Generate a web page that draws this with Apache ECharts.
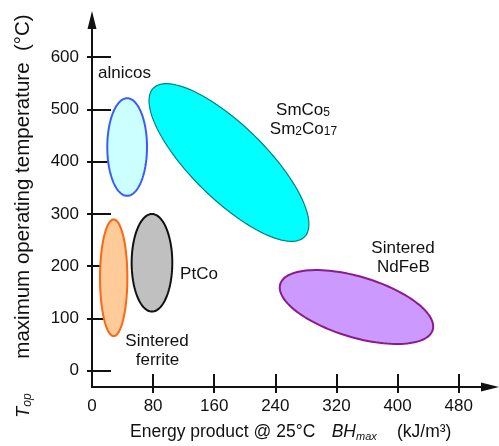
<!DOCTYPE html>
<html>
<head>
<meta charset="utf-8">
<script src="https://cdn.jsdelivr.net/npm/echarts@6/dist/echarts.min.js"></script>
<style>
  html, body { margin: 0; padding: 0; background: #fff; }
  #chart { width: 499px; height: 446px; }
</style>
</head>
<body>
<div id="chart"></div>
<script>
// Magnet families: operating temperature vs. energy product, each drawn as an ellipse
// described by its centre and two conjugate half-axis vectors (data units).
const materials = ['alnicos', 'Sintered ferrite', 'PtCo', 'SmCo5 / Sm2Co17', 'Sintered NdFeB'];
const centerBH = [46, 28.4, 78.5, 179.3, 346.2];     // kJ/m3
const centerT  = [428, 178, 206.6, 398.4, 122];      // °C
const axis1BH  = [26, 17.9, 26.6, 99, 99.8];
const axis1T   = [0, 0, 0, -142.1, -43.8];
const axis2BH  = [0, 0, 0, -33.9, -11.4];
const axis2T   = [93.4, 111.5, 93.3, -50.5, -55.5];

const xTickValues = [0, 80, 160, 240, 320, 400, 480];
const yTickValues = [0, 100, 200, 300, 400, 500, 600];

const fills   = ['#ccffff', '#ffcc99', '#c0c0c0', '#00ffff', '#cc99ff'];
const strokes = ['#3a5cff', '#ff6611', '#111111', '#0b7f80', '#8c1a8c'];
const strokeWidths = [2, 2, 2, 1.2, 2];

const FONT = '"Liberation Sans", Arial, Helvetica, sans-serif';
const INK = '#111';

const chart = echarts.init(document.getElementById('chart'), null, { renderer: 'canvas' });

const X_MIN = 0, X_MAX = 521, Y_MIN = -31, Y_MAX = 671;

const ellipseData = materials.map((name, i) => ({
  name,
  value: [centerBH[i], centerT[i], axis1BH[i], axis1T[i], axis2BH[i], axis2T[i]]
}));

function renderEllipse(params, api) {
  const i = params.dataIndex;
  const cx = api.value(0), cy = api.value(1);
  const ax = api.value(2), ay = api.value(3);
  const bx = api.value(4), by = api.value(5);
  const pts = [];
  const N = 120;
  for (let k = 0; k < N; k++) {
    const t = (k / N) * Math.PI * 2;
    const c = Math.cos(t), s = Math.sin(t);
    pts.push(api.coord([cx + ax * c + bx * s, cy + ay * c + by * s]));
  }
  return {
    type: 'polygon',
    shape: { points: pts },
    style: { fill: fills[i], stroke: strokes[i], lineWidth: strokeWidths[i] }
  };
}

function label(text, x, y, extra) {
  return Object.assign({
    type: 'text',
    x, y,
    style: {
      text,
      fontSize: 17,
      fontFamily: FONT,
      fill: INK,
      align: 'center',
      verticalAlign: 'middle'
    }
  }, extra || {});
}

function subText(text, x, y, subSize, subPad) {
  return {
    type: 'text',
    x, y,
    style: {
      text,
      fontSize: 17,
      fontFamily: FONT,
      fill: INK,
      lineHeight: 22,
      align: 'center',
      verticalAlign: 'middle',
      rich: {
        s: { fontSize: subSize, fontFamily: FONT, fill: INK, lineHeight: subSize, verticalAlign: 'top', padding: [subPad, 0, 0, 0] }
      }
    }
  };
}

const axisCommon = {
  type: 'value',
  splitLine: { show: false }
};

const option = {
  backgroundColor: '#fff',
  animation: false,
  grid: { left: 92, right: 9, top: 20, bottom: 59, containLabel: false },
  xAxis: [
    Object.assign({}, axisCommon, {
      min: X_MIN, max: X_MAX,
      position: 'bottom',
      axisLine: { show: true, onZero: false, symbol: ['none', 'triangle'], symbolSize: [9, 18],
                  lineStyle: { color: INK, width: 2 } },
      axisTick: { show: true, inside: true, length: 13, customValues: xTickValues.slice(1),
                  lineStyle: { color: INK, width: 2 } },
      axisLabel: { show: true, customValues: xTickValues, margin: 11, fontSize: 17,
                   fontFamily: FONT, color: INK }
    }),
    Object.assign({}, axisCommon, {
      min: X_MIN, max: X_MAX,
      position: 'bottom',
      axisLine: { show: false, onZero: false },
      axisTick: { show: true, inside: false, length: 6, customValues: xTickValues.slice(1),
                  lineStyle: { color: INK, width: 2 } },
      axisLabel: { show: false }
    })
  ],
  yAxis: [
    Object.assign({}, axisCommon, {
      min: Y_MIN, max: Y_MAX,
      position: 'left',
      axisLine: { show: true, onZero: false, symbol: ['none', 'triangle'], symbolSize: [9, 18],
                  lineStyle: { color: INK, width: 2 } },
      axisTick: { show: true, inside: true, length: 19, customValues: yTickValues,
                  lineStyle: { color: INK, width: 2 } },
      axisLabel: { show: true, customValues: yTickValues, margin: 13, fontSize: 17,
                   fontFamily: FONT, color: INK }
    }),
    Object.assign({}, axisCommon, {
      min: Y_MIN, max: Y_MAX,
      position: 'left',
      axisLine: { show: false, onZero: false },
      axisTick: { show: true, inside: false, length: 5, customValues: yTickValues,
                  lineStyle: { color: INK, width: 2 } },
      axisLabel: { show: false }
    })
  ],
  series: [{
    type: 'custom',
    xAxisIndex: 0,
    yAxisIndex: 0,
    clip: false,
    encode: { x: 0, y: 1 },
    renderItem: renderEllipse,
    data: ellipseData
  }],
  graphic: [
    label('alnicos', 124.5, 73),
    subText('SmCo{s|5}', 303, 110, 12, 8),
    subText('Sm{s|2}Co{s|17}', 303.5, 129, 12, 8),
    label('Sintered', 403, 248),
    label('NdFeB', 403.4, 267.5),
    label('PtCo', 199, 274),
    label('Sintered', 157, 341.5),
    label('ferrite', 157.5, 360.5),
    // axis titles
    {
      type: 'text', x: 130, y: 432.5,
      style: { text: 'Energy product @ 25°C', fontSize: 17.5, fontFamily: FONT, fill: INK,
               align: 'left', verticalAlign: 'middle' }
    },
    {
      type: 'text', x: 331.7, y: 432.5,
      style: {
        text: '{i|BH}{s|max}', fontSize: 17.5, fontFamily: FONT, fill: INK,
        align: 'left', verticalAlign: 'middle', lineHeight: 22,
        rich: {
          i: { fontSize: 17.5, fontStyle: 'italic', fontFamily: FONT, fill: INK, lineHeight: 22 },
          s: { fontSize: 11, fontStyle: 'italic', fontFamily: FONT, fill: INK, lineHeight: 11,
               verticalAlign: 'top', padding: [10, 0, 0, 0] }
        }
      }
    },
    {
      type: 'text', x: 397, y: 432.5,
      style: { text: '(kJ/m³)', fontSize: 17.5, fontFamily: FONT, fill: INK,
               align: 'left', verticalAlign: 'middle' }
    },
    {
      type: 'text', x: 23.5, y: 186.5, rotation: Math.PI / 2,
      style: { text: 'maximum operating temperature  (°C)', fontSize: 20.5, fontFamily: FONT,
               fill: INK, align: 'center', verticalAlign: 'middle' }
    },
    {
      type: 'text', x: 23.5, y: 405.5, rotation: Math.PI / 2,
      style: {
        text: '{i|T}{s|op}', fontSize: 18, fontFamily: FONT, fill: INK,
        align: 'center', verticalAlign: 'middle', lineHeight: 22,
        rich: {
          i: { fontSize: 18, fontStyle: 'italic', fontFamily: FONT, fill: INK, lineHeight: 22 },
          s: { fontSize: 12, fontStyle: 'italic', fontFamily: FONT, fill: INK, lineHeight: 12,
               verticalAlign: 'top', padding: [9, 0, 0, 0] }
        }
      }
    }
  ]
};

chart.setOption(option);
</script>
</body>
</html>
